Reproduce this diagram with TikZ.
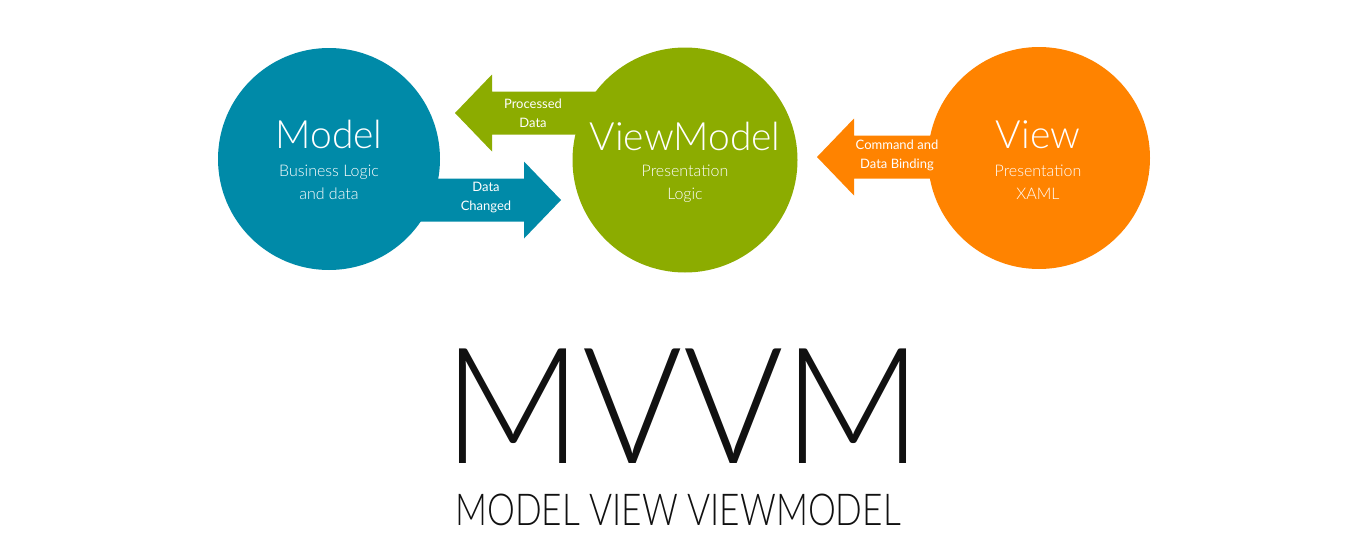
\documentclass[tikz,border=0pt]{standalone}
\usepackage{fontspec}
\setmainfont{Lato}
\newfontfamily\lightfont{Lato Light}
\usepackage{tikz}
\usetikzlibrary{calc}
\definecolor{modelblue}{RGB}{0,138,168}
\definecolor{vmgreen}{RGB}{140,172,0}
\definecolor{vieworange}{RGB}{255,131,0}
\definecolor{mvvmblack}{RGB}{17,17,17}
\tikzset{
  blob/.style={circle, minimum size=222pt, inner sep=0pt},
  title/.style={anchor=base, text=white, font=\lightfont\fontsize{39}{39}\selectfont},
  sub/.style={text=white, align=center, font=\lightfont\fontsize{16}{23}\selectfont},
  tag/.style={text=white, align=center, font=\fontsize{13}{19}\selectfont},
  big/.style={anchor=base, inner sep=0pt, text depth=0pt, text=mvvmblack}
}
% block arrow from tail #1 to tip #2 in colour #3
\newcommand{\blockarrow}[3]{%
  \coordinate (hb) at ($(#2)!37pt!(#1)$);
  \fill[#3] ($(#1)!21.5pt!90:(#2)$) -- ($(hb)!21.5pt!-90:(#1)$) -- ($(hb)!38.5pt!-90:(#1)$)
    -- (#2) -- ($(hb)!38.5pt!90:(#1)$) -- ($(hb)!21.5pt!90:(#1)$) -- ($(#1)!21.5pt!-90:(#2)$) -- cycle;
}
\begin{document}
\begin{tikzpicture}[x=1pt,y=-1pt]
\useasboundingbox[fill=white] (0,0) rectangle (1366,555);
\coordinate (pdTail) at (640,113);
\coordinate (pdTip) at (455,113);
\coordinate (dcTail) at (380,200);
\coordinate (dcTip) at (561,200);
\coordinate (cbTail) at (980,157);
\coordinate (cbTip) at (817,157);
\blockarrow{pdTail}{pdTip}{vmgreen}
\blockarrow{dcTail}{dcTip}{modelblue}
\blockarrow{cbTail}{cbTip}{vieworange}
\node[blob, fill=modelblue] (model) at (329,159) {};
\node[blob, fill=vmgreen, minimum size=225pt] (viewmodel) at (685,160) {};
\node[blob, fill=vieworange] (view) at (1039,158) {};
\node[title] (modelTitle) at (329,148) {Model};
\node[sub] (modelSub) at (329,182) {Business Logic\\and data};
\node[title] (vmTitle) at (685,150) {ViewModel};
\node[sub] (vmSub) at (685,184) {Presentation\\Logic};
\node[title] (viewTitle) at (1038,148) {View};
\node[sub] (viewSub) at (1038,182) {Presentation\\XAML};
\node[tag] (pdLabel) at (533,113) {Processed\\Data};
\node[tag] (dcLabel) at (486,198) {Data\\Changed};
\node[tag] (cbLabel) at (897,155) {Command and\\Data Binding};
\node[big, font=\lightfont\fontsize{162}{162}\selectfont] (mvvm) at (683,463) {\scalebox{0.945}[1]{MVVM}};
\node[big, font=\lightfont\fontsize{44}{44}\selectfont] (full) at (678,525) {\scalebox{0.8}[1]{MODEL VIEW VIEWMODEL}};
\end{tikzpicture}
\end{document}
